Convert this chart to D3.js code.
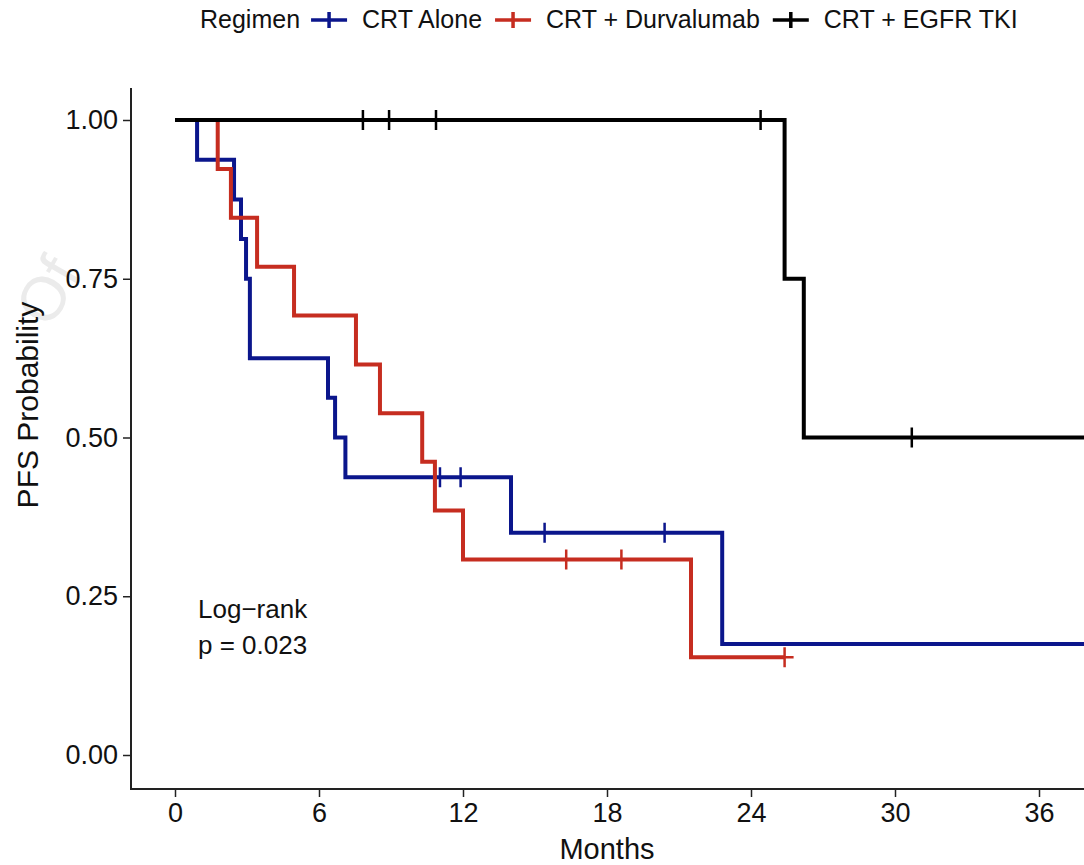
<!DOCTYPE html>
<html>
<head>
<meta charset="utf-8">
<script src="https://cdn.jsdelivr.net/npm/d3@7"></script>
<style>
  body { margin: 0; background: #fff; }
  svg { display: block; font-family: "Liberation Sans", Arial, sans-serif; }
</style>
</head>
<body>
<svg id="km"></svg>
<script>
// step data (months, PFS probability)
const regimens = ["CRT Alone", "CRT + Durvalumab", "CRT + EGFR TKI"];
const colors = ["#0b168c", "#c62d20", "#000000"];

const aloneTimes = [0, 0.92, 2.46, 2.75, 2.96, 3.12, 6.375, 6.67, 7.1, 14.0, 22.8, 38];
const aloneSurv  = [1, 0.9375, 0.875, 0.8125, 0.75, 0.625, 0.5625, 0.5, 0.4375, 0.35, 0.175, 0.175];
const aloneCensor = [11.04, 11.9, 15.4, 20.4];

const durvaTimes = [0, 1.78, 2.33, 3.42, 4.96, 7.54, 8.54, 10.3, 10.83, 12.0, 21.5, 25.4];
const durvaSurv  = [1, 0.923, 0.846, 0.769, 0.692, 0.615, 0.538, 0.462, 0.385, 0.308, 0.154, 0.154];
const durvaCensor = [16.3, 18.6, 25.4];

const egfrTimes = [0, 25.4, 26.2, 38];
const egfrSurv  = [1, 0.75, 0.5, 0.5];
const egfrCensor = [7.83, 8.92, 10.875, 24.4, 30.7];

const xTicks = [0, 6, 12, 18, 24, 30, 36];
const yTicks = [0, 0.25, 0.5, 0.75, 1];

const width = 1084, height = 865;
const svg = d3.select("#km").attr("width", width).attr("height", height);

const x = d3.scaleLinear().domain([0, 36]).range([175, 1039]);
const y = d3.scaleLinear().domain([0, 1]).range([755, 120]);

const panelLeft = 131, panelBottom = 789, panelTop = 88;

// faint watermark from the source
svg.append("text")
    .attr("transform", "translate(50,330) rotate(-60)")
    .attr("font-size", 62).attr("fill", "#ebebeb")
    .text("Of");

// axes
const yAxis = svg.append("g")
    .attr("transform", `translate(${panelLeft},0)`)
    .call(d3.axisLeft(y).tickValues(yTicks).tickFormat(d3.format(".2f")).tickSize(8).tickPadding(5));
yAxis.select(".domain").remove();
yAxis.selectAll("text").attr("font-size", 27).attr("fill", "#111").attr("font-family", null);
yAxis.selectAll("line").attr("stroke", "#222").attr("stroke-width", 1.5);

const xAxis = svg.append("g")
    .attr("transform", `translate(0,${panelBottom})`)
    .call(d3.axisBottom(x).tickValues(xTicks).tickSize(8).tickPadding(6));
xAxis.select(".domain").remove();
xAxis.selectAll("text").attr("font-size", 27).attr("fill", "#111").attr("font-family", null);
xAxis.selectAll("line").attr("stroke", "#222").attr("stroke-width", 1.5);

svg.append("line").attr("x1", panelLeft).attr("x2", panelLeft).attr("y1", panelTop).attr("y2", panelBottom + 1)
    .attr("stroke", "#222").attr("stroke-width", 2);
svg.append("line").attr("x1", panelLeft - 1).attr("x2", width).attr("y1", panelBottom).attr("y2", panelBottom)
    .attr("stroke", "#222").attr("stroke-width", 2);

// titles
svg.append("text").attr("x", x(18)).attr("y", 859).attr("text-anchor", "middle")
    .attr("font-size", 29).attr("fill", "#111").text("Months");
svg.append("text").attr("transform", "translate(38,405) rotate(-90)").attr("text-anchor", "middle")
    .attr("font-size", 30).attr("fill", "#111").text("PFS Probability");

// curves
const series = [
  { times: aloneTimes, surv: aloneSurv, censor: aloneCensor },
  { times: durvaTimes, surv: durvaSurv, censor: durvaCensor },
  { times: egfrTimes, surv: egfrSurv, censor: egfrCensor }
];

const line = d3.line().x(d => x(d[0])).y(d => y(d[1])).curve(d3.curveStepAfter);
const bis = d3.bisector(d => d).right;

series.forEach((s, i) => {
  const pts = s.times.map((t, j) => [t, s.surv[j]]);
  svg.append("path")
      .attr("d", line(pts))
      .attr("fill", "none")
      .attr("stroke", colors[i])
      .attr("stroke-width", 4)
      .attr("stroke-linejoin", "miter");

  // censor marks: survival at that time
  s.censor.forEach(c => {
    const sv = s.surv[bis(s.times, c) - 1];
    const cx = x(c), cy = y(sv);
    svg.append("path")
        .attr("d", `M${cx - 9},${cy}H${cx + 9}M${cx},${cy - 10}V${cy + 10}`)
        .attr("stroke", colors[i]).attr("stroke-width", 2.5).attr("fill", "none");
  });
});

// log-rank annotation
svg.append("text").attr("x", 198).attr("y", 618).attr("font-size", 26).attr("fill", "#111").text("Log\u2212rank");
svg.append("text").attr("x", 198).attr("y", 654).attr("font-size", 26).attr("fill", "#111").text("p = 0.023");

// legend
const legend = svg.append("g").attr("transform", "translate(0,28)");
let lx = 200;
const title = legend.append("text").attr("x", lx).attr("y", 0).attr("font-size", 25).attr("fill", "#111").text("Regimen");
lx += title.node().getComputedTextLength() + 11;
regimens.forEach((r, i) => {
  const cx = lx + 18, cy = -8;
  legend.append("path")
      .attr("d", `M${cx - 18},${cy}H${cx + 18}M${cx},${cy - 8}V${cy + 8}`)
      .attr("stroke", colors[i]).attr("stroke-width", 3.5).attr("fill", "none");
  lx += 36 + 15;
  const t = legend.append("text").attr("x", lx).attr("y", 0).attr("font-size", 25).attr("fill", "#111").text(r);
  lx += t.node().getComputedTextLength() + 13;
});
</script>
</body>
</html>
